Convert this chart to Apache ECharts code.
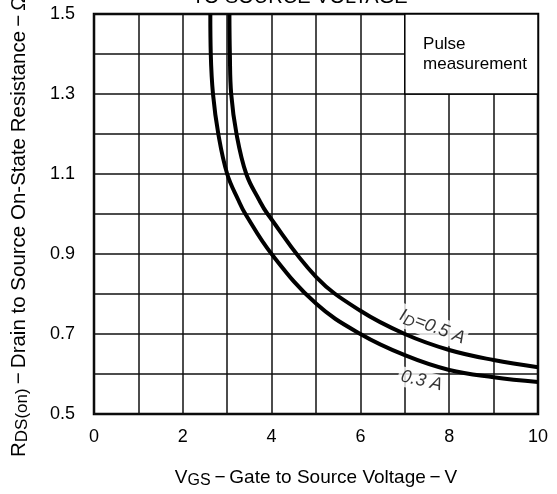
<!DOCTYPE html>
<html>
<head>
<meta charset="utf-8">
<script src="https://cdn.jsdelivr.net/npm/echarts@6/dist/echarts.min.js"></script>
<style>
  html, body { margin: 0; padding: 0; background: #fff; }
  #chart { width: 557px; height: 494px; }
</style>
</head>
<body>
<div id="chart"></div>
<script>
// RDS(on) vs VGS
const xTicks = [0, 2, 4, 6, 8, 10]
const yTicks = [0.5, 0.7, 0.9, 1.1, 1.3, 1.5]

const vgs03 = [2.62, 2.63, 2.68, 2.80, 3.00, 3.25, 3.41, 4.00, 5.00, 6.00, 7.00, 8.00, 9.00, 10.00]
const rds03 = [1.50, 1.40, 1.30, 1.20, 1.10, 1.035, 1.00, 0.90, 0.776, 0.700, 0.647, 0.610, 0.592, 0.580]

const vgs05 = [3.05, 3.06, 3.09, 3.21, 3.43, 3.72, 3.91, 5.00, 6.00, 7.00, 8.00, 9.00, 10.00]
const rds05 = [1.50, 1.40, 1.30, 1.20, 1.10, 1.035, 1.00, 0.843, 0.758, 0.700, 0.660, 0.635, 0.617]

// note box corner values and curve label anchors (data units)
const noteBox = [[7, 1.3], [10, 1.5]]
const label05At = [7.62, 0.718]
const label03At = [7.38, 0.583]

const FONT = "'Liberation Sans', Arial, sans-serif"
const DASH = '\u2009\u2212\u2009'

const chart = echarts.init(document.getElementById('chart'))

const toPairs = (xs, ys) => xs.map((x, i) => [x, ys[i]])

const curveStyle = {
  type: 'line',
  smooth: 0.4,
  showSymbol: false,
  symbol: 'none',
  z: 4,
  lineStyle: { color: '#000', width: 4 },
  silent: true,
}

const option = {
  animation: false,
  backgroundColor: '#fff',
  textStyle: { fontFamily: FONT },
  title: {
    text: 'TO SOURCE VOLTAGE',
    left: 192,
    top: -13,
    padding: 0,
    textStyle: { fontFamily: FONT, fontSize: 20, fontWeight: 'normal', color: '#000' },
  },
  grid: {
    left: 94,
    right: 19,
    top: 14,
    bottom: 80,
    show: true,
    borderColor: '#000',
    borderWidth: 2.5,
  },
  xAxis: {
    type: 'value',
    min: 0,
    max: 10,
    interval: 1,
    name: '{v|V}{s|GS}{v|' + DASH + 'Gate to Source Voltage' + DASH + 'V}',
    nameLocation: 'middle',
    nameGap: 52,
    nameTextStyle: {
      rich: {
        v: { fontFamily: FONT, fontSize: 19, color: '#000' },
        s: { fontFamily: FONT, fontSize: 16, color: '#000', padding: [7, 0, 0, 0] },
      },
    },
    axisLine: { show: false },
    axisTick: { show: false },
    axisLabel: {
      margin: 14,
      fontFamily: FONT,
      fontSize: 18,
      color: '#000',
      formatter: v => (xTicks.includes(v) ? String(v) : ''),
    },
    splitLine: { show: true, lineStyle: { color: '#111', width: 1.5 } },
  },
  yAxis: {
    type: 'value',
    min: 0.5,
    max: 1.5,
    interval: 0.1,
    axisLine: { show: false },
    axisTick: { show: false },
    axisLabel: {
      margin: 19,
      fontFamily: FONT,
      fontSize: 18,
      color: '#000',
      formatter: v => {
        const t = yTicks.find(k => Math.abs(k - v) < 1e-6)
        return t === undefined ? '' : t.toFixed(1)
      },
    },
    splitLine: { show: true, lineStyle: { color: '#111', width: 1.5 } },
  },
  graphic: [
    {
      type: 'text',
      x: 19,
      y: 457,
      rotation: Math.PI / 2,
      style: {
        text: '{r|R}{s|DS(on)}{r|' + DASH + 'Drain to Source On-State Resistance' + DASH + 'Ω}',
        align: 'left',
        verticalAlign: 'middle',
        fill: '#000',
        rich: {
          r: { fontFamily: FONT, fontSize: 20.5, fill: '#000' },
          s: { fontFamily: FONT, fontSize: 17, fill: '#000', padding: [6, 0, 0, 0] },
        },
      },
    },
  ],
  series: [
    {
      ...curveStyle,
      name: 'ID=0.3 A',
      data: toPairs(vgs03, rds03),
      markArea: {
        silent: true,
        itemStyle: { color: '#fff', borderColor: '#000', borderWidth: 1.5 },
        label: {
          show: true,
          position: [19, 21],
          fontFamily: FONT,
          fontSize: 17,
          lineHeight: 20,
          color: '#000',
          formatter: 'Pulse\nmeasurement',
        },
        data: [[{ coord: noteBox[0] }, { coord: noteBox[1] }]],
      },
    },
    {
      ...curveStyle,
      name: 'ID=0.5 A',
      data: toPairs(vgs05, rds05),
    },
    {
      type: 'scatter',
      z: 2,
      silent: true,
      symbolSize: 0,
      data: [label05At],
      label: {
        show: true,
        position: 'inside',
        rotate: -21,
        backgroundColor: '#fff',
        padding: [1, 2],
        formatter: '{i|I}{d|D}{i|=0.5 A}',
        rich: {
          i: { fontFamily: FONT, fontSize: 18, fontStyle: 'italic', color: '#000' },
          d: { fontFamily: FONT, fontSize: 15, fontStyle: 'italic', color: '#000', padding: [7, 0, 0, 0] },
        },
      },
    },
    {
      type: 'scatter',
      z: 2,
      silent: true,
      symbolSize: 0,
      data: [label03At],
      label: {
        show: true,
        position: 'inside',
        rotate: -13,
        backgroundColor: '#fff',
        padding: [1, 3],
        formatter: '0.3 A',
        fontFamily: FONT,
        fontSize: 18,
        fontStyle: 'italic',
        color: '#000',
      },
    },
  ],
}

chart.setOption(option)
</script>
</body>
</html>
